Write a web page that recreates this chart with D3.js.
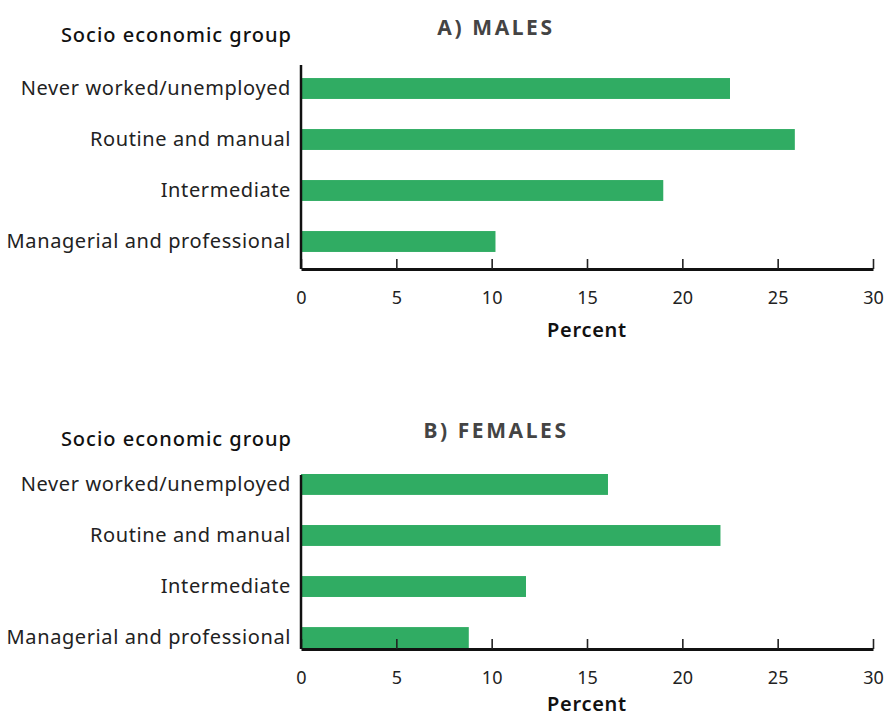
<!DOCTYPE html>
<html>
<head>
<meta charset="utf-8">
<script src="https://cdn.jsdelivr.net/npm/d3@7"></script>
<style>
  html, body { margin: 0; padding: 0; background: #fff; }
  svg { display: block; }
  text { font-family: "Noto Sans", sans-serif; }
</style>
</head>
<body>
<svg id="chart" width="889" height="717"></svg>
<script>
// ---- Data ----
const categories = ["Never worked/unemployed", "Routine and manual", "Intermediate", "Managerial and professional"];
const malesValues = [22.5, 25.9, 19.0, 10.2];
const femalesValues = [16.1, 22.0, 11.8, 8.8];
const xTicks = [0, 5, 10, 15, 20, 25, 30];
const panelTitles = ["A) MALES", "B) FEMALES"];
const yAxisTitle = "Socio economic group";
const xAxisTitle = "Percent";

// ---- Layout ----
const svg = d3.select("#chart");
const barColor = "#30ac63";
const x = d3.scaleLinear().domain([0, 30]).range([301, 873]);

const panels = [
  { title: panelTitles[0], values: malesValues, bandRange: [63, 267], padOuter: 0.295,
    axisY: 269, yAxisTop: 65, titleY: 35, groupY: 42, percentY: 337 },
  { title: panelTitles[1], values: femalesValues, bandRange: [474, 648], padOuter: 0,
    axisY: 649, yAxisTop: 475, titleY: 438, groupY: 446, percentY: 711 }
];

panels.forEach(p => {
  const g = svg.append("g");
  const y = d3.scaleBand().domain(categories).range(p.bandRange)
    .paddingInner(0.59).paddingOuter(p.padOuter);

  // bars
  g.selectAll("rect.bar").data(categories).join("rect")
    .attr("class", "bar")
    .attr("x", x(0))
    .attr("y", d => y(d))
    .attr("width", (d, i) => x(p.values[i]) - x(0))
    .attr("height", y.bandwidth())
    .attr("fill", barColor);

  // x axis (ticks pointing up, inside)
  const xAxis = d3.axisBottom(x).tickValues(xTicks).tickSizeInner(-10).tickSizeOuter(0).tickPadding(22);
  const xg = g.append("g").attr("transform", `translate(0,${p.axisY})`).call(xAxis);
  xg.select(".domain").attr("stroke", "#111").attr("stroke-width", 3);
  xg.selectAll(".tick line").attr("stroke", "#222").attr("stroke-width", 1.6);
  xg.selectAll(".tick text").attr("fill", "#222").attr("font-size", 18)
    .attr("font-family", "'Noto Sans', sans-serif").attr("dy", "0.71em");

  // y axis line
  g.append("line").attr("x1", x(0)).attr("x2", x(0))
    .attr("y1", p.yAxisTop).attr("y2", p.axisY)
    .attr("stroke", "#111").attr("stroke-width", 2.5);

  // category labels
  g.selectAll("text.cat").data(categories).join("text")
    .attr("class", "cat")
    .attr("x", 291)
    .attr("y", d => y(d) + y.bandwidth() / 2 + 6.5)
    .attr("text-anchor", "end")
    .attr("font-size", 20)
    .attr("letter-spacing", 0.6)
    .attr("fill", "#222")
    .text(d => d);

  // y axis title
  g.append("text").attr("x", 292).attr("y", p.groupY)
    .attr("text-anchor", "end").attr("font-size", 20).attr("font-weight", 500)
    .attr("letter-spacing", 1).attr("fill", "#111").text(yAxisTitle);

  // panel title
  g.append("text").attr("x", 496).attr("y", p.titleY)
    .attr("text-anchor", "middle").attr("font-size", 21).attr("font-weight", 700)
    .attr("letter-spacing", 2.6).attr("fill", "#444").text(p.title);

  // x axis title
  g.append("text").attr("x", (x(0) + x(30)) / 2).attr("y", p.percentY)
    .attr("text-anchor", "middle").attr("font-size", 20).attr("font-weight", 600)
    .attr("letter-spacing", 0.7).attr("fill", "#111").text(xAxisTitle);
});
</script>
</body>
</html>
